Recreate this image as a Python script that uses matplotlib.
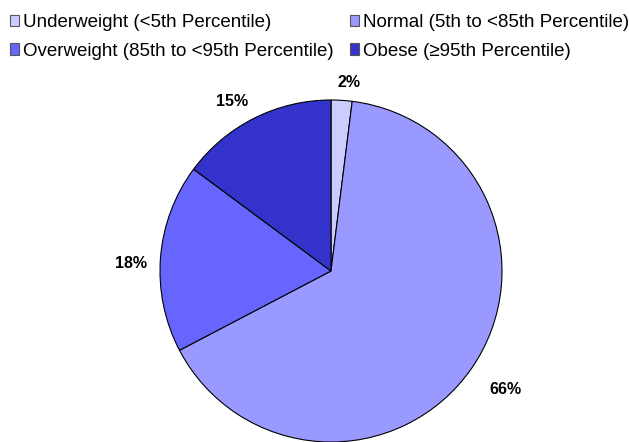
import numpy as np
import matplotlib.pyplot as plt
from matplotlib.patches import Patch

plt.rcParams['font.family'] = ['Liberation Sans', 'DejaVu Sans']

categories = ['Underweight (<5th Percentile)', 'Normal (5th to <85th Percentile)',
              'Overweight (85th to <95th Percentile)', 'Obese (\u226595th Percentile)']
percents = [2, 66, 18, 15]
colors = ['#CCCCFF', '#9999FF', '#6666FF', '#3333CC']

# label placement: distance (in radii) and angular nudge (deg) from the slice middle
label_dist = [1.11, 1.23, 1.17, 1.15]
label_turn = [-1.8, 0.6, 2.2, 3.5]

fig = plt.figure(figsize=(6.29, 4.42), dpi=100)
ax = fig.add_axes([0, 0, 1, 1])

cx, cy, r = 331, 171, 171
wedges, _ = ax.pie(percents, colors=colors, startangle=90, counterclock=False,
                   center=(cx, cy), radius=r, frame=True,
                   wedgeprops=dict(edgecolor='black', linewidth=0.8))

for w, p, d, t in zip(wedges, percents, label_dist, label_turn):
    mid = np.deg2rad((w.theta1 + w.theta2) / 2 + t)
    ax.text(cx + d * r * np.cos(mid), cy + d * r * np.sin(mid), '%d%%' % p,
            ha='center', va='center', fontsize=11.5, fontweight='bold')

ax.set_xlim(0, 629)
ax.set_ylim(0, 442)
ax.set_aspect('equal')
ax.axis('off')

# legend: two rows, entries listed column by column
order = [0, 2, 1, 3]
handles = [Patch(facecolor=colors[i], edgecolor='#555555', linewidth=0.8) for i in order]
fig.legend(handles, [categories[i] for i in order], ncol=2, loc='upper left',
           bbox_to_anchor=(0.004, 0.985), frameon=False, fontsize=13.5,
           handlelength=0.5, handleheight=0.55, handletextpad=0.2,
           columnspacing=0.86, labelspacing=0.62, borderaxespad=0.0)

fig.savefig('out.png', dpi=100)
